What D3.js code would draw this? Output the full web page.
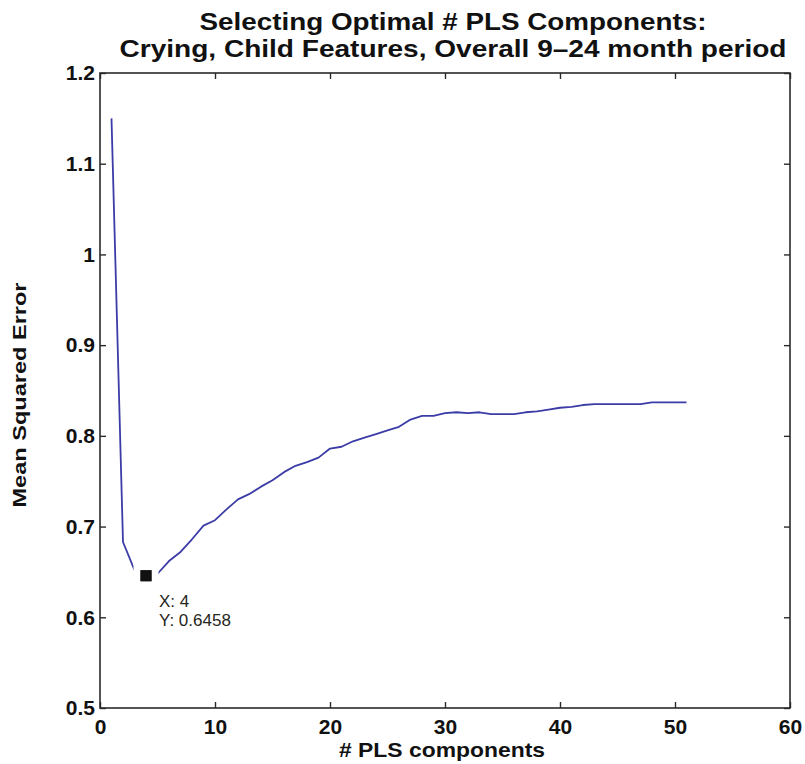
<!DOCTYPE html>
<html>
<head>
<meta charset="utf-8">
<script src="https://cdn.jsdelivr.net/npm/d3@7/dist/d3.min.js"></script>
<style>
  html, body { margin: 0; padding: 0; background: #fff; }
  svg { display: block; }
  text { font-family: "Liberation Sans", Arial, Helvetica, sans-serif; }
</style>
</head>
<body>
<svg id="chart" width="805" height="764"></svg>
<script>
// Cross-validated mean squared error for 1..51 PLS components
const components = d3.range(1, 52);
const mse = [
  1.150, 0.683, 0.652, 0.6458, 0.648, 0.662, 0.672, 0.686, 0.701, 0.707,
  0.719, 0.730, 0.736, 0.744, 0.751, 0.760, 0.767, 0.771, 0.776, 0.786,
  0.788, 0.794, 0.798, 0.802, 0.806, 0.810, 0.818, 0.822, 0.822, 0.825,
  0.826, 0.825, 0.826, 0.824, 0.824, 0.824, 0.826, 0.827, 0.829, 0.831,
  0.832, 0.834, 0.835, 0.835, 0.835, 0.835, 0.835, 0.837, 0.837, 0.837,
  0.837
];
const xTicks = [0, 10, 20, 30, 40, 50, 60];
const yTicks = [0.5, 0.6, 0.7, 0.8, 0.9, 1.0, 1.1, 1.2];
const yTickLabels = ["0.5", "0.6", "0.7", "0.8", "0.9", "1", "1.1", "1.2"];
const titleLines = [
  "Selecting Optimal # PLS Components:",
  "Crying, Child Features, Overall 9\u201324 month period"
];
const xLabel = "# PLS components";
const yLabel = "Mean Squared Error";
// Data tip on the selected minimum
const tipX = 4;
const tipY = 0.6458;

const svg = d3.select("#chart");
const plotLeft = 100, plotRight = 790, plotTop = 73, plotBottom = 708;

const x = d3.scaleLinear().domain([0, 60]).range([plotLeft, plotRight]);
const y = d3.scaleLinear().domain([0.5, 1.2]).range([plotBottom, plotTop]);

const axisColor = "#2a2a2a";

// Box axes with inward ticks on all four sides
const gBottom = svg.append("g").attr("transform", `translate(0,${plotBottom})`)
  .call(d3.axisBottom(x).tickValues(xTicks).tickFormat(d3.format("d"))
        .tickSizeInner(-6).tickSizeOuter(0).tickPadding(11));
const gTop = svg.append("g").attr("transform", `translate(0,${plotTop})`)
  .call(d3.axisTop(x).tickValues(xTicks).tickFormat("")
        .tickSizeInner(-6).tickSizeOuter(0));
const gLeft = svg.append("g").attr("transform", `translate(${plotLeft},0)`)
  .call(d3.axisLeft(y).tickValues(yTicks).tickFormat((d, i) => yTickLabels[i])
        .tickSizeInner(-6).tickSizeOuter(0).tickPadding(5));
const gRight = svg.append("g").attr("transform", `translate(${plotRight},0)`)
  .call(d3.axisRight(y).tickValues(yTicks).tickFormat("")
        .tickSizeInner(-6).tickSizeOuter(0));

[gBottom, gTop, gLeft, gRight].forEach(g => {
  g.select(".domain").remove();
  g.selectAll(".tick line").attr("stroke", axisColor).attr("stroke-width", 1.4);
  g.selectAll(".tick text")
    .attr("fill", "#111")
    .style("font-size", "21px")
    .style("font-weight", "bold");
});

svg.append("rect")
  .attr("x", plotLeft).attr("y", plotTop)
  .attr("width", plotRight - plotLeft).attr("height", plotBottom - plotTop)
  .attr("fill", "none")
  .attr("stroke", axisColor)
  .attr("stroke-width", 1.6);

// MSE curve
const line = d3.line()
  .x((d, i) => x(components[i]))
  .y(d => y(d));

svg.append("path")
  .datum(mse)
  .attr("d", line)
  .attr("fill", "none")
  .attr("stroke", "#3b3ca6")
  .attr("stroke-width", 1.8)
  .attr("stroke-linejoin", "round");

// Data tip marker with white halo
const mk = 11;
svg.append("rect")
  .attr("x", x(tipX) - mk / 2).attr("y", y(tipY) - mk / 2)
  .attr("width", mk).attr("height", mk)
  .attr("fill", "#111")
  .attr("stroke", "#fff")
  .attr("stroke-width", 14)
  .attr("paint-order", "stroke");
svg.append("rect")
  .attr("x", x(tipX) - mk / 2).attr("y", y(tipY) - mk / 2)
  .attr("width", mk).attr("height", mk)
  .attr("fill", "#111");

const tip = svg.append("text")
  .attr("x", x(tipX) + 13)
  .attr("y", y(tipY) + 31)
  .attr("fill", "#26261a")
  .style("font-size", "17px");
tip.append("tspan").attr("x", x(tipX) + 13).text(`X: ${tipX}`);
tip.append("tspan").attr("x", x(tipX) + 13).attr("dy", 19).text(`Y: ${tipY}`);

// Title
const titleWidths = [507, 667];
const titleBase = [30, 57];
titleLines.forEach((t, i) => {
  svg.append("text")
    .attr("x", 453).attr("y", titleBase[i])
    .attr("text-anchor", "middle")
    .attr("fill", "#111")
    .attr("textLength", titleWidths[i])
    .attr("lengthAdjust", "spacingAndGlyphs")
    .style("font-size", "24px")
    .style("font-weight", "bold")
    .text(t);
});

// Axis titles
svg.append("text")
  .attr("x", 442).attr("y", 757)
  .attr("text-anchor", "middle")
  .attr("fill", "#111")
  .attr("textLength", 206)
  .attr("lengthAdjust", "spacingAndGlyphs")
  .style("font-size", "21px")
  .style("font-weight", "bold")
  .text(xLabel);

svg.append("text")
  .attr("transform", "translate(26,395) rotate(-90)")
  .attr("text-anchor", "middle")
  .attr("fill", "#111")
  .attr("textLength", 225)
  .attr("lengthAdjust", "spacingAndGlyphs")
  .style("font-size", "18px")
  .style("font-weight", "bold")
  .text(yLabel);
</script>
</body>
</html>
